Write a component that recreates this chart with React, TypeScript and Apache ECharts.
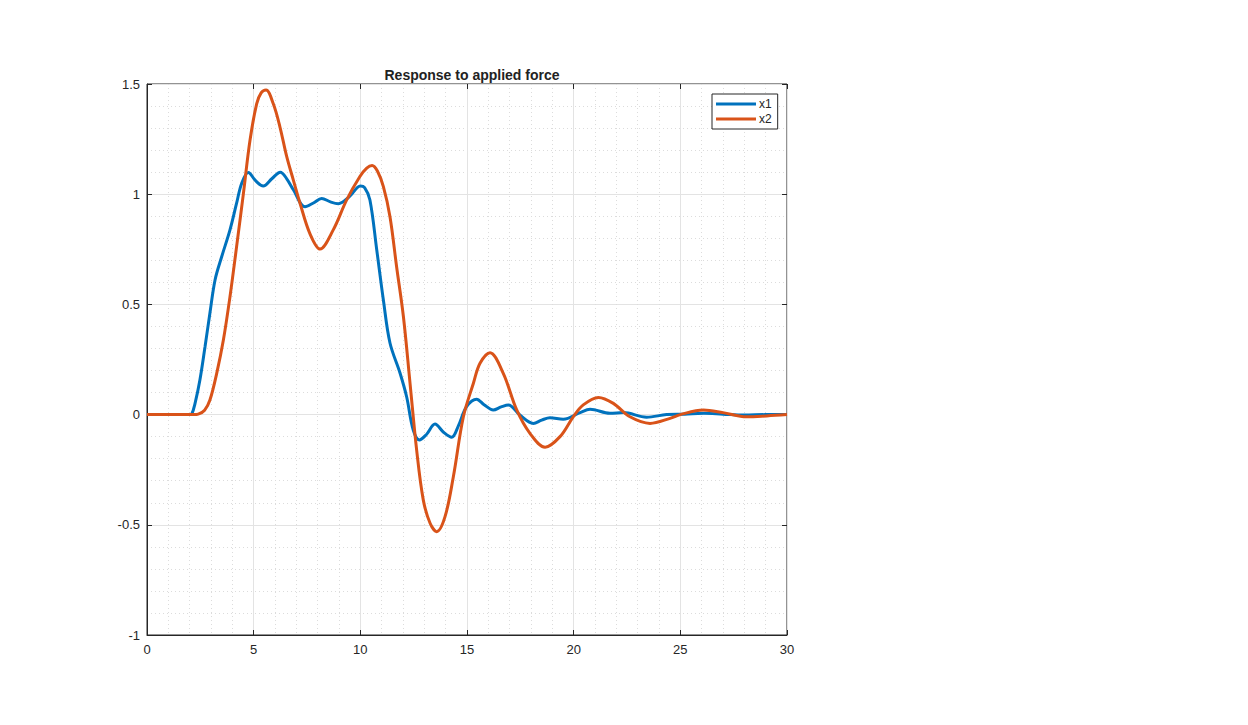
import React, { useEffect, useRef } from "react";
import * as echarts from "echarts";

const x1Time = [0, 1, 2.0, 2.1, 2.25, 2.48, 2.72, 2.95, 3.19, 3.5, 3.89, 4.2, 4.44, 4.75, 5.1, 5.45, 5.85, 6.25, 6.55, 6.86, 7.41, 7.8, 8.19, 8.6, 8.97, 9.5, 10.0, 10.2, 10.45, 10.77, 11.08, 11.39, 11.86, 12.17, 12.48, 12.77, 13.1, 13.5, 13.9, 14.28, 14.6, 14.98, 15.45, 15.8, 16.23, 16.6, 16.94, 17.48, 18.11, 18.5, 18.89, 19.51, 20.3, 20.77, 21.7, 22.33, 23.42, 24.36, 25.2, 26.1, 27, 28, 29, 30];
const x1Values = [0, 0, 0, 0.003, 0.05, 0.157, 0.308, 0.461, 0.611, 0.716, 0.838, 0.959, 1.05, 1.098, 1.06, 1.037, 1.07, 1.1, 1.07, 1.02, 0.943, 0.96, 0.981, 0.965, 0.957, 0.99, 1.037, 1.03, 0.974, 0.747, 0.52, 0.325, 0.189, 0.081, -0.07, -0.115, -0.09, -0.043, -0.08, -0.103, -0.05, 0.036, 0.07, 0.045, 0.021, 0.035, 0.044, -0.002, -0.04, -0.025, -0.014, -0.021, 0.009, 0.024, 0.006, 0.009, -0.012, 0, 0.002, 0.006, 0.002, -0.002, 0, 0];

const x2Time = [0, 1, 2.2, 2.4, 2.7, 2.95, 3.27, 3.58, 3.89, 4.2, 4.52, 4.83, 5.14, 5.35, 5.58, 5.92, 6.23, 6.55, 6.86, 7.17, 7.64, 8.11, 8.73, 9.36, 9.98, 10.3, 10.55, 10.8, 11.08, 11.39, 11.7, 12.02, 12.33, 12.64, 12.95, 13.27, 13.58, 13.97, 14.36, 14.83, 15.3, 15.61, 16.08, 16.7, 17.33, 17.95, 18.66, 19.36, 19.98, 20.45, 21.16, 21.86, 22.64, 23.58, 24.52, 25.0, 26.08, 27.0, 28.11, 29.05, 30];
const x2Values = [0, 0, 0, 0.002, 0.02, 0.066, 0.188, 0.338, 0.535, 0.762, 1.004, 1.246, 1.41, 1.46, 1.473, 1.41, 1.306, 1.17, 1.064, 0.96, 0.82, 0.751, 0.838, 0.974, 1.08, 1.118, 1.13, 1.105, 1.034, 0.898, 0.671, 0.444, 0.142, -0.161, -0.387, -0.493, -0.531, -0.463, -0.282, -0.01, 0.142, 0.233, 0.281, 0.187, 0.021, -0.085, -0.148, -0.1, -0.01, 0.044, 0.078, 0.051, -0.01, -0.04, -0.017, 0, 0.021, 0.009, -0.01, -0.006, 0];

const seriesNames = ["x1", "x2"];
const seriesColors = ["#0072BD", "#D95319"];
const chartTitle = "Response to applied force";

const FONT = "'Liberation Sans', Arial, Helvetica, sans-serif";

export default function App() {
  const ref = useRef<HTMLDivElement>(null);
  useEffect(() => {
    if (!ref.current) return;
    const chart = echarts.init(ref.current, undefined, { renderer: "svg" });
    const pairs = (t: number[], v: number[]) => t.map((x, i) => [x, v[i]]);
    const gridLine = { show: true, lineStyle: { color: "#e3e3e3", width: 1, type: "solid" as const } };
    const minorLine = { show: true, lineStyle: { color: "#dcdcdc", width: 1, type: [1, 3] as any } };
    const mkTick = () => ({ show: true, inside: true, length: 5, lineStyle: { color: "#262626", width: 1 } });
    const labelStyle = { color: "#262626", fontSize: 13, fontFamily: FONT };
    chart.setOption({
      animation: false,
      backgroundColor: "#ffffff",
      title: {
        text: chartTitle,
        left: 467,
        textAlign: "center",
        top: 63,
        textStyle: { fontSize: 14, fontWeight: "bold", color: "#222222", fontFamily: FONT },
      },
      legend: {
        data: seriesNames,
        orient: "vertical",
        left: 712,
        top: 94,
        itemWidth: 40,
        itemHeight: 3,
        itemGap: 3,
        icon: "rect",
        padding: [4, 6, 4, 4],
        borderColor: "#262626",
        borderWidth: 1,
        backgroundColor: "#ffffff",
        textStyle: { fontSize: 12, color: "#262626", fontFamily: FONT, padding: [0, 0, 0, -2] },
      },
      grid: {
        left: 147,
        right: 461,
        top: 84,
        bottom: 90,
        show: true,
        borderColor: "#262626",
        borderWidth: 1,
        backgroundColor: "#ffffff",
      },
      xAxis: [
        {
          type: "value",
          min: 0,
          max: 30,
          interval: 5,
          axisLine: { show: true, onZero: false, lineStyle: { color: "#262626" } },
          axisTick: mkTick(),
          axisLabel: { ...labelStyle, margin: 8 },
          splitLine: gridLine,
          minorTick: { show: false, splitNumber: 5 },
          minorSplitLine: minorLine,
        },
        {
          type: "value",
          position: "top",
          min: 0,
          max: 30,
          interval: 5,
          axisLine: { show: false, onZero: false },
          axisTick: mkTick(),
          axisLabel: { show: false },
          splitLine: { show: false },
        },
      ],
      yAxis: [
        {
          type: "value",
          min: -1,
          max: 1.5,
          interval: 0.5,
          axisLine: { show: true, onZero: false, lineStyle: { color: "#262626" } },
          axisTick: mkTick(),
          axisLabel: { ...labelStyle, margin: 7 },
          splitLine: gridLine,
          minorTick: { show: false, splitNumber: 5 },
          minorSplitLine: minorLine,
        },
        {
          type: "value",
          position: "right",
          min: -1,
          max: 1.5,
          interval: 0.5,
          axisLine: { show: false, onZero: false },
          axisTick: mkTick(),
          axisLabel: { show: false },
          splitLine: { show: false },
        },
      ],
      series: [
        {
          name: seriesNames[0],
          type: "line",
          data: pairs(x1Time, x1Values),
          showSymbol: false,
          symbol: "none",
          smooth: 0.35,
          lineStyle: { color: seriesColors[0], width: 3 },
          itemStyle: { color: seriesColors[0] },
          z: 3,
        },
        {
          name: seriesNames[1],
          type: "line",
          data: pairs(x2Time, x2Values),
          showSymbol: false,
          symbol: "none",
          smooth: 0.35,
          lineStyle: { color: seriesColors[1], width: 3 },
          itemStyle: { color: seriesColors[1] },
          z: 4,
        },
      ],
    });
    return () => chart.dispose();
  }, []);
  return (
    <div style={{ position: "absolute", left: 0, top: 0, width: 1248, height: 725, background: "#fff" }}>
      <div style={{ position: "absolute", left: 11, top: 9, width: 6, height: 716, background: "#0cbc78" }} />
      <div ref={ref} style={{ position: "absolute", left: 0, top: 0, width: 1248, height: 725 }} />
    </div>
  );
}
